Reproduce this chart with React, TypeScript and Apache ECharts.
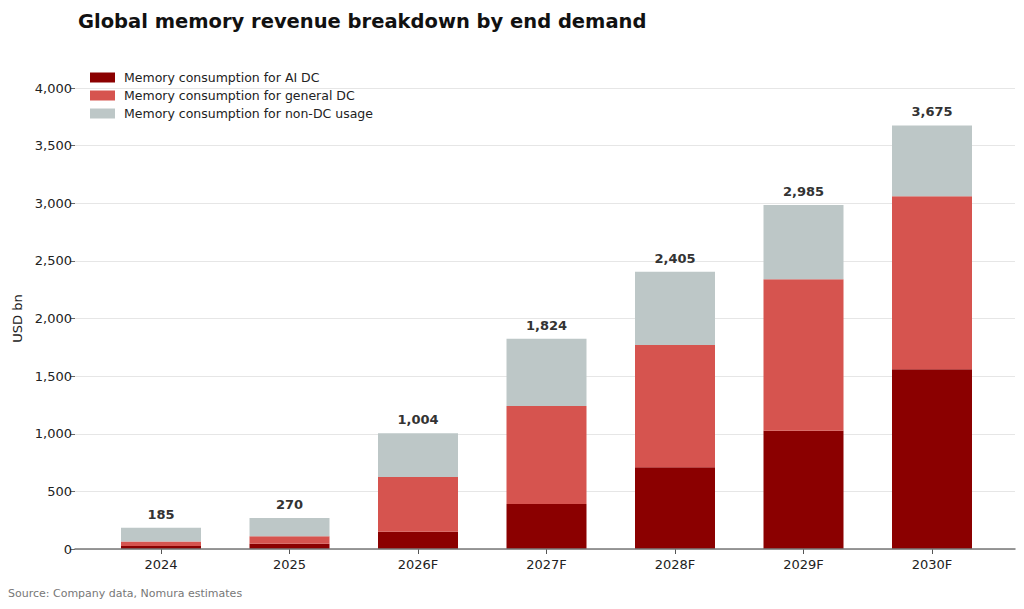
import React, { useEffect, useRef } from "react";
import * as echarts from "echarts";

const categories = ["2024", "2025", "2026F", "2027F", "2028F", "2029F", "2030F"];
const aiDC = [25, 45, 150, 390, 710, 1025, 1560];
const generalDC = [40, 65, 475, 850, 1060, 1315, 1500];
const nonDC = [120, 160, 379, 584, 635, 645, 615];
const totals = [185, 270, 1004, 1824, 2405, 2985, 3675];
const seriesNames = [
  "Memory consumption for AI DC",
  "Memory consumption for general DC",
  "Memory consumption for non-DC usage",
];
const colors = ["#8b0000", "#d6544f", "#bdc7c7"];

const FONT = "DejaVu Sans";

export default function App() {
  const ref = useRef<HTMLDivElement>(null);
  useEffect(() => {
    if (!ref.current) return;
    const chart = echarts.init(ref.current, undefined, { renderer: "svg" });
    const fmt = (v: number) => v.toLocaleString("en-US");
    chart.setOption({
      animation: false,
      backgroundColor: "#ffffff",
      textStyle: { fontFamily: FONT },
      title: {
        text: "Global memory revenue breakdown by end demand",
        left: 73,
        top: 6,
        textStyle: { fontFamily: FONT, fontSize: 19.5, fontWeight: "bold", color: "#111" },
      },
      legend: {
        orient: "vertical",
        left: 85,
        top: 66,
        itemWidth: 25,
        itemHeight: 10,
        itemGap: 5,
        icon: "rect",
        textStyle: { fontFamily: FONT, fontSize: 12.5, color: "#222", padding: [0, 0, 0, 4] },
        data: seriesNames,
      },
      graphic: [
        {
          type: "text",
          left: 8,
          top: 588,
          style: {
            text: "Source: Company data, Nomura estimates",
            font: `11px "${FONT}"`,
            fill: "#777",
          },
        },
      ],
      grid: [
        { left: 96.75, right: 27.75, top: 88, bottom: 60 },
        { left: 75, right: 9, top: 88, bottom: 60 },
      ],
      xAxis: [
        {
          type: "category",
          gridIndex: 0,
          data: categories,
          axisLine: { show: false },
          axisTick: { show: true, alignWithLabel: true, length: 5, lineStyle: { color: "#555" } },
          axisLabel: { fontFamily: FONT, fontSize: 13, color: "#222", margin: 9 },
        },
        {
          type: "value",
          gridIndex: 1,
          min: 0,
          max: 1,
          z: 5,
          axisLine: { show: true, lineStyle: { color: "#777", width: 1.5 } },
          axisTick: { show: false },
          axisLabel: { show: false },
          splitLine: { show: false },
        },
      ],
      yAxis: [
        {
          type: "value",
          gridIndex: 0,
          min: 0,
          max: 4000,
          interval: 500,
          show: false,
          splitLine: { show: false },
        },
        {
          type: "value",
          gridIndex: 1,
          min: 0,
          max: 4000,
          interval: 500,
          name: "USD bn",
          nameLocation: "middle",
          nameGap: 50,
          nameTextStyle: { fontFamily: FONT, fontSize: 13, color: "#222" },
          axisLine: { show: false },
          axisTick: { show: true, length: 5, lineStyle: { color: "#666" } },
          axisLabel: { fontFamily: FONT, fontSize: 13, color: "#222", margin: 3, formatter: fmt },
          splitLine: { show: true, lineStyle: { color: "#e6e6e6", width: 1 } },
        },
      ],
      series: [
        {
          name: seriesNames[0],
          type: "bar",
          stack: "total",
          xAxisIndex: 0,
          yAxisIndex: 0,
          barWidth: 80,
          data: aiDC,
          itemStyle: { color: colors[0] },
        },
        {
          name: seriesNames[1],
          type: "bar",
          stack: "total",
          xAxisIndex: 0,
          yAxisIndex: 0,
          barWidth: 80,
          data: generalDC,
          itemStyle: { color: colors[1] },
        },
        {
          name: seriesNames[2],
          type: "bar",
          stack: "total",
          xAxisIndex: 0,
          yAxisIndex: 0,
          barWidth: 80,
          data: nonDC,
          itemStyle: { color: colors[2] },
          label: {
            show: true,
            position: "top",
            distance: 7,
            fontFamily: FONT,
            fontSize: 13,
            fontWeight: "bold",
            color: "#333",
            formatter: (p: any) => fmt(totals[p.dataIndex]),
          },
        },
      ],
    });
    return () => chart.dispose();
  }, []);
  return <div ref={ref} style={{ width: 1024, height: 609, position: "absolute", left: 0, top: 0 }} />;
}
